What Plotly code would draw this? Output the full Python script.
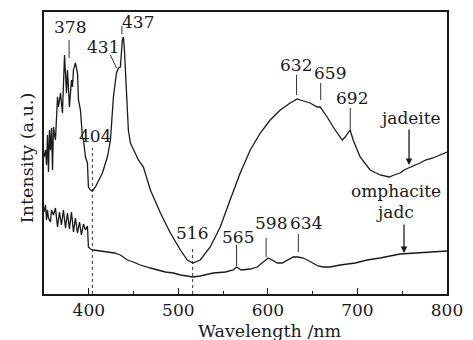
import plotly.graph_objects as go

# ---------------- data ----------------
jadeite_wl = [350, 351.7, 352.8, 353.9, 355.0, 356.1, 357.2, 358.4, 359.5, 360.6, 362.8, 365.1, 366.2,
              368.4, 370.6, 371.7, 372.9, 375.1, 376.2, 377.3, 378.4, 380.7, 381.8, 382.9, 385.1, 387.4,
              388.5, 390.7, 392.9, 394.1, 396.3, 398.5, 399.6, 401.9, 404.1, 407.4, 415.2, 420.8, 424.2,
              427.5, 430.9, 433.1, 435.3, 437.5, 438.7, 439.8, 442.0, 444.2, 446.5, 449.8, 455.4, 461.0,
              468.8, 480.0, 491.1, 502.3, 510.0, 516.2, 524.5, 535.6, 546.8, 557.8, 569.1, 580.3, 591.5,
              602.6, 613.8, 624.9, 632.7, 636.0, 643.9, 647.2, 655.0, 658.4, 666.2, 672.9, 682.9, 686.3,
              691.8, 695.2, 703.0, 714.2, 725.3, 735.4, 741.0, 747.6, 752.0, 756.5, 762.0, 769.9, 776.0,
              784.4, 792.0, 800]
jadeite_int = [137, 144, 129, 159, 122, 164, 144, 166, 124, 167, 154, 197, 187,
               201, 181, 221, 239, 201, 224, 207, 187, 214, 207, 224, 231, 221,
               194, 184, 157, 154, 137, 131, 107, 104, 103, 107, 121, 137, 154,
               197, 221, 226, 227, 254, 257, 244, 197, 164, 151, 144, 134, 127,
               104, 81, 61, 44, 34, 31, 34, 47, 67, 94, 121, 144, 161,
               174, 184, 191, 195, 194, 192, 191, 187, 187, 177, 167, 154, 157,
               164, 154, 137, 124, 119, 117, 119, 121, 124, 126, 128, 131, 134,
               136, 139, 142]

omphacite_wl = [350, 351.7, 352.8, 353.9, 355.0, 357.2, 358.4, 360.6, 362.8, 365.1, 367.3, 369.5, 371.7,
                374.0, 376.2, 378.4, 380.7, 382.9, 385.1, 387.4, 389.6, 391.8, 394.1, 396.3, 398.5, 399.6,
                401.9, 405.2, 413.0, 420.8, 428.6, 435.3, 443.1, 449.8, 457.5, 468.8, 476.6, 485.5, 494.4,
                502.3, 510.0, 515.6, 524.5, 539.0, 552.5, 561.4, 565.0, 570.2, 580.3, 588.1, 594.8, 600.4,
                604.8, 610.4, 616.0, 621.5, 628.2, 633.8, 639.4, 643.9, 650.5, 656.1, 661.7, 669.5, 680.7,
                697.4, 710.9, 725.3, 747.6, 769.9, 786.6, 800]
omphacite_int = [82, 89, 74, 84, 76, 72, 84, 79, 86, 67, 82, 69, 84,
                 66, 81, 65, 82, 62, 76, 61, 72, 59, 70, 64, 68, 47,
                 45, 44, 43, 42, 41, 39, 34, 32, 29, 26, 24, 22, 21,
                 19, 18, 17, 18, 21, 22, 24, 27, 24, 25, 27, 32, 36,
                 34, 31, 31, 34, 37, 37, 36, 34, 31, 28, 27, 27, 29,
                 31, 34, 36, 40, 41, 42, 43]

peak_labels = [378, 431, 437, 404, 516, 565, 598, 634, 632, 659, 692]
x_ticks = [400, 500, 600, 700, 800]
x_title = "Wavelength /nm"
y_title = "Intensity (a.u.)"
series_names = ["jadeite", "omphacite jadc"]

# ---------------- figure ----------------
FONT = "DejaVu Serif"
INK = "#1a1a1a"
fig = go.Figure()
fig.add_trace(go.Scatter(x=jadeite_wl, y=jadeite_int, mode="lines", name=series_names[0],
                         line=dict(color=INK, width=1.3)))
fig.add_trace(go.Scatter(x=omphacite_wl, y=omphacite_int, mode="lines", name=series_names[1],
                         line=dict(color=INK, width=1.3)))


def label(x, y, text, size=17, **kw):
    fig.add_annotation(x=x, y=y, text=text, showarrow=False, xanchor="center", yanchor="middle",
                       font=dict(family=FONT, size=size, color=INK), **kw)


# label placement: (text x, text y, line y0, line y1) per peak
label_pos = {
    378: (379.5, 267, 236, 254),
    437: (455.4, 272, 260, 268),
    404: (407.4, 158, 0, 146),
    516: (515.6, 61, 0, 47),
    565: (566.9, 57, 28, 49),
    598: (603.0, 71, 37, 56),
    634: (642.7, 71, 42, 60),
    632: (631.6, 229, 199, 219),
    659: (669.5, 221, 194, 211),
    692: (694.0, 196, 164, 186),
}
for lab in peak_labels:
    if lab == 431:
        label(416.4, 247, str(lab))
        fig.add_shape(type="line", x0=424.2, y0=239, x1=430.9, y1=226,
                      line=dict(color=INK, width=0.9))
        continue
    tx, ty, y0, y1 = label_pos[lab]
    label(tx, ty, str(lab))
    dotted = lab in (404, 516)
    fig.add_shape(type="line", x0=lab, x1=lab, y0=y0, y1=y1,
                  line=dict(color=INK, width=0.9, dash="dot" if dotted else "solid"))

# series labels with arrows
label(758.7, 176, "jadeite")
fig.add_annotation(x=757.6, y=129, ax=757.6, ay=166, axref="x", ayref="y", text="",
                   showarrow=True, arrowhead=2, arrowsize=1, arrowwidth=1.3, arrowcolor=INK)
label(743, 103, "omphacite")
label(742, 82, "jadc")
fig.add_annotation(x=752, y=41, ax=752, ay=71, axref="x", ayref="y", text="",
                   showarrow=True, arrowhead=2, arrowsize=1, arrowwidth=1.3, arrowcolor=INK)

# axis titles
label(0.561, -0.132, x_title, size=17.5, xref="paper", yref="paper")
label(-0.042, 0.482, y_title, size=17.5, xref="paper", yref="paper", textangle=-90)

fig.update_layout(
    width=473, height=340,
    margin=dict(l=44, r=26, t=12, b=46, autoexpand=False),
    paper_bgcolor="white", plot_bgcolor="white",
    showlegend=False,
    font=dict(family=FONT, size=17, color=INK),
)
fig.update_xaxes(range=[350, 800], tickvals=x_ticks, ticktext=[str(v) for v in x_ticks],
                 ticks="inside", ticklen=6, tickwidth=1.2, tickcolor=INK,
                 minor=dict(ticks="inside", ticklen=3, tickwidth=1, tickcolor=INK, dtick=50, tick0=350),
                 showline=True, linecolor=INK, linewidth=1.5, mirror=True,
                 showgrid=False, zeroline=False, automargin=False,
                 tickfont=dict(family=FONT, size=17, color=INK))
fig.update_yaxes(range=[0, 282], showticklabels=False, ticks="",
                 showline=True, linecolor=INK, linewidth=1.5, mirror=True,
                 showgrid=False, zeroline=False, automargin=False)

fig.write_html("out.html", config={"displayModeBar": False},
               post_script="document.body.style.margin='0';document.body.style.overflow='hidden';")
